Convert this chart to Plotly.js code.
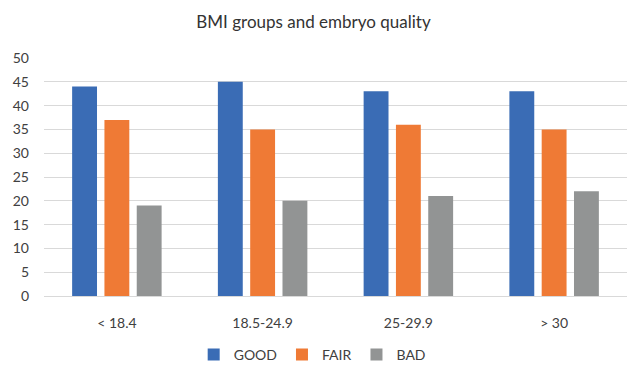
<!DOCTYPE html>
<html><head><meta charset="utf-8">
<script src="https://cdn.plot.ly/plotly-3.0.1.min.js"></script>
<style>html,body{margin:0;padding:0;background:#fff;}#chart{width:627px;height:365px;}</style>
</head><body><div id="chart"></div>
<script>
const categories = ['< 18.4', '18.5-24.9', '25-29.9', '> 30'];
const good = [44, 45, 43, 43];
const fair = [37, 35, 36, 35];
const bad = [19, 20, 21, 22];
const seriesNames = ['GOOD', 'FAIR', 'BAD'];
const colors = ['#3A6CB5', '#EF7A35', '#929494'];
const yTicks = [0, 5, 10, 15, 20, 25, 30, 35, 40, 45, 50];

const font = {family: 'Lato, "Open Sans", sans-serif', color: '#404040', size: 14};
const traces = [good, fair, bad].map((v, i) => ({
  type: 'bar', x: categories, y: v, name: seriesNames[i],
  marker: {color: colors[i]}, hoverinfo: 'none'
}));
Plotly.newPlot('chart', traces, {
  width: 627, height: 365,
  margin: {l: 44, r: 0, t: 58, b: 69},
  paper_bgcolor: '#fff', plot_bgcolor: '#fff',
  font: font,
  title: {text: 'BMI groups and embryo quality', x: 0.5, xanchor: 'center', y: 0.94, yanchor: 'middle',
          font: {family: 'Lato, "Open Sans", sans-serif', size: 17, color: '#333'}},
  barmode: 'group', bargap: 0.335, bargroupgap: 0.23,
  xaxis: {tickfont: font, showgrid: false, showline: false, ticks: '', ticklabelstandoff: 17, automargin: false},
  yaxis: {range: [0, 50], tickvals: yTicks, tickfont: font, showgrid: true, gridcolor: '#d9d9d9',
          gridwidth: 1, zeroline: true, zerolinecolor: '#d9d9d9', zerolinewidth: 1, showline: false,
          ticks: '', ticklabelstandoff: 14, fixedrange: true, automargin: false},
  legend: {orientation: 'h', x: 0.46, xanchor: 'center', xref: 'paper', yref: 'container', y: 0.028, yanchor: 'middle',
           font: {family: 'Lato, "Open Sans", sans-serif', size: 14, color: '#404040'}, itemwidth: 30},
  showlegend: true
}, {staticPlot: true});
</script></body></html>
